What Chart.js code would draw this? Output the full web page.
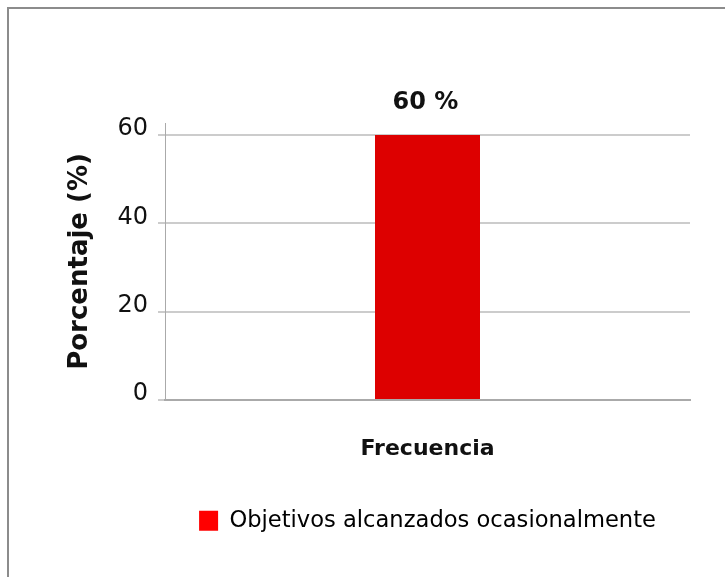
<!DOCTYPE html>
<html>
<head>
<meta charset="utf-8">
<script src="https://cdn.jsdelivr.net/npm/chart.js@4"></script>
<style>
  body { margin: 0; background: #fff; overflow: hidden; }
  #wrap { position: relative; width: 725px; height: 577px; overflow: hidden; }
  #frame { position: absolute; left: 7px; top: 7px; width: 740px; height: 600px;
           border-left: 2px solid #8c8c8c; border-top: 2px solid #8c8c8c; }
  canvas { position: absolute; left: 0; top: 0; }
</style>
</head>
<body>
<div id="wrap">
  <div id="frame"></div>
  <canvas id="chart1" width="725" height="577"></canvas>
</div>
<script>
var categorias = ['Frecuencia'];
var serie = 'Objetivos alcanzados ocasionalmente';
var valores = [60];
var yTicks = [0, 20, 40, 60];

Chart.defaults.font.family = 'DejaVu Sans';
Chart.defaults.color = '#111';

// etiqueta "60 %" encima de la barra
const etiquetas = {
  id: 'etiquetas',
  afterDatasetsDraw(chart) {
    const ctx = chart.ctx;
    const meta = chart.getDatasetMeta(0);
    ctx.save();
    ctx.font = 'bold 24px "DejaVu Sans"';
    ctx.fillStyle = '#111';
    ctx.textAlign = 'center';
    ctx.textBaseline = 'middle';
    meta.data.forEach(function(bar, i) {
      ctx.fillText(valores[i] + ' %', bar.x - 2, bar.y - 32);
    });
    ctx.restore();
  }
};

const ctx1 = document.getElementById('chart1');
const chart1 = new Chart(ctx1, {
  type: 'bar',
  data: {
    labels: categorias,
    datasets: [{
      label: serie,
      data: valores,
      backgroundColor: '#dd0000',
      categoryPercentage: 1,
      barPercentage: 0.2
    }]
  },
  options: {
    responsive: false,
    animation: false,
    layout: { padding: { top: 123, right: 35, left: 60, bottom: 35 } },
    plugins: {
      tooltip: { enabled: false },
      legend: {
        position: 'bottom',
        fullSize: false,
        labels: {
          boxWidth: 19,
          boxHeight: 20,
          padding: 10,
          color: '#111',
          font: { size: 22.6 },
          generateLabels: function(chart) {
            return [{ text: serie, fillStyle: '#ff0000', strokeStyle: '#ff0000', lineWidth: 0, datasetIndex: 0 }];
          }
        }
      }
    },
    scales: {
      x: {
        grid: { display: false },
        border: { color: '#aaaaaa', width: 2 },
        ticks: { display: false },
        title: {
          display: true,
          text: categorias[0],
          font: { size: 22, weight: 'bold' },
          color: '#111',
          padding: { top: 28, bottom: 37 }
        }
      },
      y: {
        min: 0,
        max: 62.7,
        afterBuildTicks: function(scale) {
          scale.ticks = yTicks.map(function(v) { return { value: v }; });
        },
        afterFit: function(scale) { scale.width = 105; },
        grid: { color: '#cccccc', lineWidth: 2, tickLength: 7 },
        border: { color: '#aaaaaa', width: 1 },
        ticks: {
          font: { size: 24 },
          color: '#111',
          padding: 10,
          labelOffset: -6
        },
        title: {
          display: true,
          text: 'Porcentaje (%)',
          font: { size: 26, weight: 'bold' },
          color: '#111',
          padding: { top: 5, bottom: 0 }
        }
      }
    }
  },
  plugins: [etiquetas]
});
</script>
</body>
</html>
